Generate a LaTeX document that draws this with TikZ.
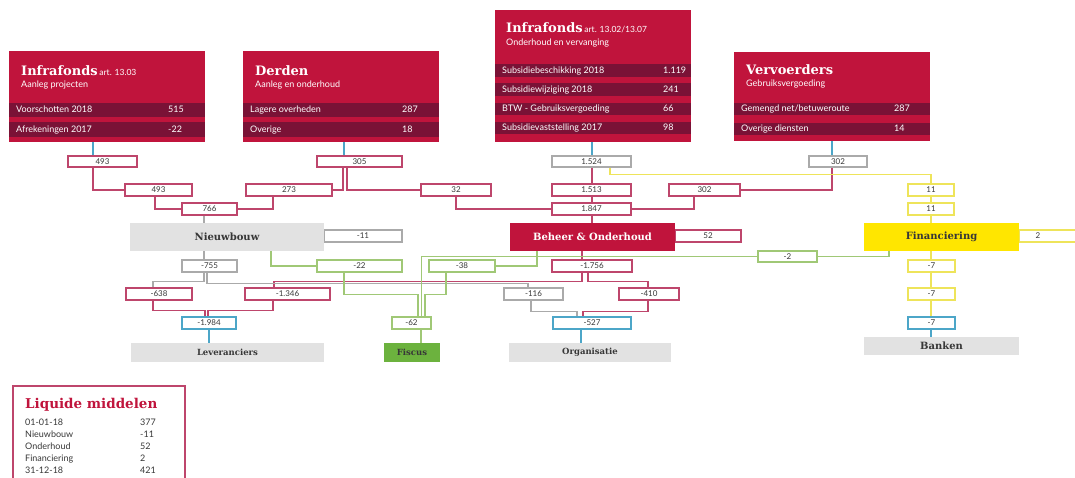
\documentclass[tikz,border=0pt]{standalone}
\usepackage{fontspec}
\setmainfont{Lato}
\newfontfamily\slab{DejaVu Serif}
\usetikzlibrary{backgrounds}
\definecolor{crim}{RGB}{192,20,60}
\definecolor{crimdark}{RGB}{122,18,54}
\definecolor{crimln}{RGB}{190,70,108}
\definecolor{grayln}{RGB}{170,170,170}
\definecolor{grayfill}{RGB}{226,226,226}
\definecolor{greenln}{RGB}{160,200,118}
\definecolor{greenfill}{RGB}{108,178,62}
\definecolor{yel}{RGB}{255,230,0}
\definecolor{yelln}{RGB}{238,228,90}
\definecolor{blueln}{RGB}{76,166,200}
\definecolor{txt}{RGB}{55,55,55}
\tikzset{
  vb/.style={fill=white,line width=1.2pt,inner sep=0pt,text=txt,font=\fontsize{8}{8}\selectfont},
  mb/.style={inner sep=0pt,font=\slab\bfseries\fontsize{10}{10}\selectfont,text=txt},
  cl/.style={draw=crimln,line width=1.2pt},
  gl/.style={draw=grayln,line width=1.2pt},
  gnl/.style={draw=greenln,line width=1.2pt},
  yl/.style={draw=yelln,line width=1.2pt},
  bl/.style={draw=blueln,line width=1.2pt},
  rowtxt/.style={inner sep=0pt,anchor=base west,text=white,font=\fontsize{9}{9}\selectfont},
  ttl/.style={inner sep=0pt,anchor=base west,text=white},
  leg/.style={inner sep=0pt,anchor=base west,text=txt,font=\fontsize{9}{9}\selectfont}
}
\newcommand{\valbox}[7]{\node[vb,draw=#2,minimum width={(#5-#3)*1pt},minimum height={(#6-#4)*1pt}] (#1) at ({(#3+#5)/2},{(#4+#6)/2}) {#7};}
\newcommand{\mainbox}[7]{\node[mb,fill=#2,minimum width={(#5-#3)*1pt},minimum height={(#6-#4)*1pt}] (#1) at ({(#3+#5)/2},{(#4+#6)/2}) {#7};}
\newcommand{\srcbox}[5]{\node[fill=crim,inner sep=0pt,minimum width={(#4-#2)*1pt},minimum height={(#5-#3)*1pt}] (#1) at ({(#2+#4)/2},{(#3+#5)/2}) {};}
\newcommand{\srcrow}[8]{%
  \fill[crimdark] (#1.west |- 0,#2) rectangle (#1.east |- 0,#3);
  \node[rowtxt] (#8l) at ({#6},{(#2+#3)/2+3}) {#4};
  \node[rowtxt] (#8v) at ({#7},{(#2+#3)/2+3}) {#5};}
\begin{document}
\begin{tikzpicture}[x=1pt,y=-1pt]
\useasboundingbox (0,0) rectangle (1075,478);
\clip (0,0) rectangle (1075,478);
% ---------- source boxes ----------
\srcbox{src1}{9}{51}{205}{142}
\node[ttl] (t1) at (21,76) {{\slab\bfseries\fontsize{13}{13}\selectfont Infrafonds}\,{\fontsize{8.5}{8}\selectfont art. 13.03}};
\node[ttl,font=\fontsize{9}{9}\selectfont] (s1) at (21,88) {Aanleg projecten};
\srcrow{src1}{103}{117}{Voorschotten 2018}{515}{16}{168}{r11}
\srcrow{src1}{122}{137}{Afrekeningen 2017}{-22}{16}{168}{r12}

\srcbox{src2}{243}{51}{439}{142}
\node[ttl] (t2) at (255,76) {\slab\bfseries\fontsize{13}{13}\selectfont Derden};
\node[ttl,font=\fontsize{9}{9}\selectfont] (s2) at (255,88) {Aanleg en onderhoud};
\srcrow{src2}{103}{117}{Lagere overheden}{287}{250}{402}{r21}
\srcrow{src2}{122}{137}{Overige}{18}{250}{402}{r22}

\srcbox{src3}{495}{10}{691}{142}
\node[ttl] (t3) at (506,33) {{\slab\bfseries\fontsize{13}{13}\selectfont Infrafonds}\,{\fontsize{8.5}{8}\selectfont art. 13.02/13.07}};
\node[ttl,font=\fontsize{9}{9}\selectfont] (s3) at (506,46) {Onderhoud en vervanging};
\srcrow{src3}{64}{77}{Subsidiebeschikking 2018}{1.119}{502}{663}{r31}
\srcrow{src3}{83}{96}{Subsidiewijziging 2018}{241}{502}{663}{r32}
\srcrow{src3}{103}{115}{BTW - Gebruiksvergoeding}{66}{502}{663}{r33}
\srcrow{src3}{122}{134}{Subsidievaststelling 2017}{98}{502}{663}{r34}

\srcbox{src4}{734}{52}{930}{141}
\node[ttl] (t4) at (746,75) {\slab\bfseries\fontsize{13}{13}\selectfont Vervoerders};
\node[ttl,font=\fontsize{9}{9}\selectfont] (s4) at (746,87) {Gebruiksvergoeding};
\srcrow{src4}{103}{115}{Gemengd net/betuweroute}{287}{741}{894}{r41}
\srcrow{src4}{123}{135}{Overige diensten}{14}{741}{894}{r42}

% ---------- value boxes ----------
\valbox{a493}{crimln}{68}{156}{137}{167}{493}
\valbox{a305}{crimln}{317}{156}{402}{167}{305}
\valbox{a1524}{grayln}{552}{156}{631}{167}{1.524}
\valbox{a302}{grayln}{809}{156}{867}{167}{302}
\valbox{b493}{crimln}{125}{184}{192}{196}{493}
\valbox{b273}{crimln}{246}{184}{332}{196}{273}
\valbox{b32}{crimln}{421}{184}{491}{196}{32}
\valbox{b1513}{crimln}{552}{184}{631}{196}{1.513}
\valbox{b302}{crimln}{669}{184}{740}{196}{302}
\valbox{b11}{yelln}{908}{184}{954}{196}{11}
\valbox{c766}{crimln}{182}{203}{237}{215}{766}
\valbox{c1847}{crimln}{552}{203}{631}{215}{1.847}
\valbox{c11}{yelln}{908}{203}{954}{215}{11}
\valbox{d11}{grayln}{324}{230}{402}{242}{-11}
\valbox{d52}{crimln}{675}{230}{741}{242}{52}
\valbox{d2}{yelln}{1019}{230}{1085}{242}{\hspace*{-28pt}2}
\valbox{e755}{grayln}{182}{260}{237}{272}{-755}
\valbox{e22}{greenln}{317}{260}{402}{272}{-22}
\valbox{e38}{greenln}{429}{260}{495}{272}{-38}
\valbox{e1756}{crimln}{552}{260}{632}{272}{-1.756}
\valbox{m2}{greenln}{758}{251}{817}{262}{-2}
\valbox{e7}{yelln}{908}{260}{955}{272}{-7}
\valbox{f638}{crimln}{126}{288}{192}{300}{-638}
\valbox{f1346}{crimln}{245}{288}{330}{300}{-1.346}
\valbox{f116}{grayln}{504}{288}{563}{300}{-116}
\valbox{f410}{crimln}{619}{288}{679}{300}{-410}
\valbox{f7}{yelln}{908}{288}{955}{300}{-7}
\valbox{g1984}{blueln}{182}{317}{236}{329}{-1.984}
\valbox{g62}{greenln}{392}{317}{431}{329}{-62}
\valbox{g527}{blueln}{553}{317}{631}{329}{-527}
\valbox{g7}{blueln}{908}{317}{955}{329}{-7}

% ---------- main boxes ----------
\mainbox{nieuwbouw}{grayfill}{130}{223}{324}{251}{Nieuwbouw}
\mainbox{beheer}{crim}{510}{223}{675}{251}{\color{white}Beheer \& Onderhoud}
\mainbox{fin}{yel}{864}{223}{1019}{251}{Financiering}
\mainbox{lev}{grayfill}{131}{343}{324}{362}{\fontsize{8.5}{8}\selectfont Leveranciers}
\mainbox{fiscus}{greenfill}{384}{343}{440}{362}{\fontsize{8.5}{8}\selectfont Fiscus}
\mainbox{org}{grayfill}{509}{343}{671}{362}{\fontsize{8.5}{8}\selectfont Organisatie}
\mainbox{banken}{grayfill}{864}{337}{1019}{355}{Banken}

% ---------- legend ----------
\node[draw=crimln,line width=1.2pt,inner sep=0pt,minimum width=172pt,minimum height=104pt] (legbox) at (99,438) {};
\node[inner sep=0pt,anchor=base west,text=crim,font=\slab\bfseries\fontsize{13.5}{13}\selectfont] (legt) at (25,408) {Liquide middelen};
\node[leg] (l1a) at (25,425) {01-01-18};     \node[leg] (l1b) at (140,425) {377};
\node[leg] (l2a) at (25,437) {Nieuwbouw};    \node[leg] (l2b) at (140,437) {-11};
\node[leg] (l3a) at (25,449) {Onderhoud};    \node[leg] (l3b) at (140,449) {52};
\node[leg] (l4a) at (25,461) {Financiering}; \node[leg] (l4b) at (140,461) {2};
\node[leg] (l5a) at (25,473) {31-12-18};     \node[leg] (l5b) at (140,473) {421};

% ---------- connectors ----------
\begin{pgfonlayer}{background}
% blue
\draw[bl] (src1.south -| 93,0) -- (a493.north -| 93,0);
\draw[bl] (src2.south -| 344,0) -- (a305.north -| 344,0);
\draw[bl] (src3.south -| 592,0) -- (a1524.north -| 592,0);
\draw[bl] (src4.south -| 832,0) -- (a302.north -| 832,0);
\draw[bl] (g1984.south -| 209,0) -- (lev.north -| 209,0);
\draw[bl] (g527.south -| 581,0) -- (org.north -| 581,0);
\draw[bl] (g7.south -| 931,0) -- (banken.north -| 931,0);
% crimson
\draw[cl] (a493.south -| 93,0) |- (b493.west);
\draw[cl] (b493.south -| 155,0) |- (c766.west);
\draw[cl] (b273.south -| 273,0) |- (c766.east);
\draw[cl] (a305.south -| 343,0) |- (b273.east);
\draw[cl] (a305.south -| 347,0) |- (b32.west);
\draw[cl] (b32.south -| 456,0) |- (c1847.west);
\draw[cl] (b302.south -| 694,0) |- (c1847.east);
\draw[cl] (a302.south -| 832,0) |- (b302.east);
\draw[cl] (a1524.south -| 592,0) -- (b1513.north -| 592,0);
\draw[cl] (b1513.south -| 592,0) -- (c1847.north -| 592,0);
\draw[cl] (c1847.south -| 592,0) -- (beheer.north -| 592,0);
\draw[cl] (beheer.south -| 582,0) -- (e1756.north -| 582,0);
\draw[cl] (e1756.south -| 582,0) -- ++(0,9) -| (f1346.north -| 274,0);
\draw[cl] (e1756.south -| 588,0) -- ++(0,9) -| (f410.north -| 648,0);
\draw[cl] (f638.south -| 153,0) -- ++(0,10) -| (g1984.north -| 205,0);
\draw[cl] (f1346.south -| 273,0) -- ++(0,10) -| (g1984.north -| 208,0);
\draw[cl] (f410.south -| 648,0) -- ++(0,11) -| (g527.north -| 583,0);
% gray
\draw[gl] (c766.south -| 204,0) -- (nieuwbouw.north -| 204,0);
\draw[gl] (nieuwbouw.south -| 204,0) -- (e755.north -| 204,0);
\draw[gl] (e755.south -| 204,0) -- ++(0,9) -| (f638.north -| 153,0);
\draw[gl] (e755.south -| 207,0) -- ++(0,11) -| (f116.north -| 528,0);
\draw[gl] (f116.south -| 531,0) -- ++(0,11) -| (g527.north -| 577,0);
% yellow
\draw[yl] (a1524.south -| 610,0) -- ++(0,7) -| (b11.north -| 931,0);
\draw[yl] (b11.south -| 931,0) -- (c11.north -| 931,0);
\draw[yl] (c11.south -| 931,0) -- (fin.north -| 931,0);
\draw[yl] (fin.south -| 931,0) -- (e7.north -| 931,0);
\draw[yl] (e7.south -| 931,0) -- (f7.north -| 931,0);
\draw[yl] (f7.south -| 931,0) -- (g7.north -| 931,0);
% green
\draw[gnl] (nieuwbouw.south -| 271,0) |- (e22.west);
\draw[gnl] (beheer.south -| 537,0) |- (e38.east);
\draw[gnl] (fin.south -| 889,0) |- (m2.east);
\draw[gnl] (m2.west) -| (g62.north -| 421.5,0);
\draw[gnl] (e22.south -| 344,0) -- ++(0,22) -| (g62.north -| 418,0);
\draw[gnl] (e38.south -| 446,0) -- ++(0,22) -| (g62.north -| 425,0);
\draw[gnl] (g62.south -| 421,0) -- (fiscus.north -| 421,0);
\end{pgfonlayer}
\end{tikzpicture}
\end{document}
